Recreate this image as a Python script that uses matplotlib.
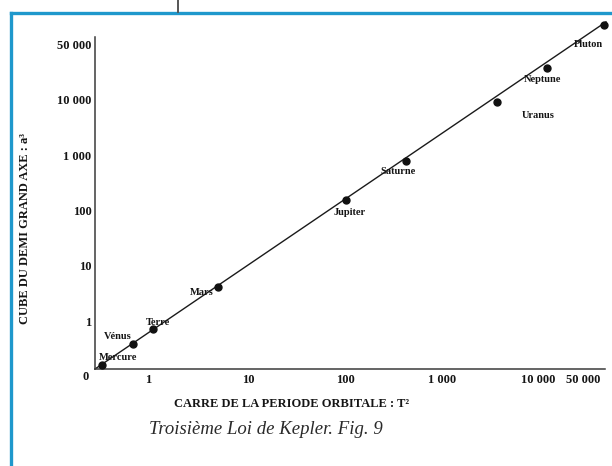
import numpy as np
import matplotlib
matplotlib.use("Agg")
import matplotlib.pyplot as plt
from matplotlib.lines import Line2D

# T^2 (years^2) and a^3 (AU^3) for each planet, as plotted
planets = ["Mercure", "Vénus", "Terre", "Mars", "Jupiter", "Saturne", "Uranus", "Neptune", "Pluton"]
t2 = [0.13, 0.72, 1.12, 5.0, 102, 427, 3740, 13800, 106000]
a3 = [0.085, 0.53, 0.85, 4.3, 158, 810, 9200, 25500, 90000]

# straight fit through the origin
fit_t2 = [0, 114000]
fit_a3 = [0, 98000]

tick_vals = [1, 10, 100, 1000, 10000, 50000]
tick_labels = ["1", "10", "100", "1 000", "10 000", "50 000"]

# label offsets (pixels) from each point
label_dx = [16, -15, 5, -16, 4, -8, 41, -5, -16]
label_dy = [8, 8, 7, -6, -12, -11, -14, -12, -20]

# the graduation is not a true log scale: 0..1 is linear, then each
# decade gets its own length (in pixels) as on the drawn axes
ANCHOR_VALS = [0, 1, 10, 100, 1000, 10000, 50000]
X_POS = [0, 53, 153, 250, 347, 443, 488]
Y_POS = [0, 47, 103, 158, 213, 269, 324]


def h(v):
    v = np.asarray(v, float)
    return np.where(v > 1, 1 + np.log10(np.maximum(v, 1)), v)


def h_inv(u):
    u = np.asarray(u, float)
    return np.where(u > 1, 10 ** (np.clip(u, 1, 12) - 1), u)


def extrap(x, xp, fp):
    x = np.asarray(x, float)
    y = np.interp(x, xp, fp)
    lo = (fp[1] - fp[0]) / (xp[1] - xp[0])
    hi = (fp[-1] - fp[-2]) / (xp[-1] - xp[-2])
    y = np.where(x < xp[0], fp[0] + (x - xp[0]) * lo, y)
    y = np.where(x > xp[-1], fp[-1] + (x - xp[-1]) * hi, y)
    return y


def make_scale(pos):
    hk = h(ANCHOR_VALS)
    fwd = lambda v: extrap(h(v), hk, pos)
    inv = lambda p: h_inv(extrap(p, pos, hk))
    return fwd, inv


W, H = 612, 466
fig = plt.figure(figsize=(W / 100, H / 100), dpi=100)
fig.patch.set_facecolor("white")

# axes box in pixels: x 95..605, y 37..369
ax = fig.add_axes([95 / W, (H - 369) / H, 510 / W, 332 / H])
ax.set_xscale("function", functions=make_scale(X_POS))
ax.set_yscale("function", functions=make_scale(Y_POS))
ax.set_xlim(0, 110000)
ax.set_ylim(0, 63000)

serif = "Liberation Serif"
ink = "#151515"

ax.plot(fit_t2, fit_a3, color="#1a1a1a", lw=1.0, clip_on=False, zorder=2)
ax.plot(t2, a3, "o", color="#111111", ms=5, clip_on=False, zorder=3)

for name, x, y, dx, dy in zip(planets, t2, a3, label_dx, label_dy):
    ax.annotate(name, xy=(x, y), xytext=(dx, dy), textcoords="offset pixels",
                ha="center", va="center", fontsize=7.5, fontweight="bold",
                family=serif, color=ink, zorder=4, annotation_clip=False)

ax.set_xticks(tick_vals)
ax.set_xticklabels(tick_labels)
ax.set_yticks(tick_vals)
ax.set_yticklabels(tick_labels)
ax.tick_params(length=0, labelsize=9, colors=ink)
ax.tick_params(axis="x", pad=3.5)
ax.tick_params(axis="y", pad=2.5)
for lab in ax.get_xticklabels() + ax.get_yticklabels():
    lab.set_family(serif)
    lab.set_fontweight("bold")

ax.annotate("0", xy=(0, 0), xytext=(-9, -8), textcoords="offset pixels",
            ha="center", va="center", fontsize=9, fontweight="bold",
            family=serif, color=ink, annotation_clip=False)

for side in ["top", "right"]:
    ax.spines[side].set_visible(False)
for side in ["left", "bottom"]:
    ax.spines[side].set_color("#3a3a3a")
    ax.spines[side].set_linewidth(1.1)
ax.set_facecolor("none")

fig.text(25 / W, 1 - 229 / H, "CUBE DU DEMI GRAND AXE : a³", rotation=90,
         ha="center", va="center", fontsize=9, fontweight="bold",
         family=serif, color=ink)
fig.text(292 / W, 1 - 404 / H, "CARRE DE LA PERIODE ORBITALE : T²",
         ha="center", va="center", fontsize=9, fontweight="bold",
         family=serif, color=ink)
fig.text(266 / W, 1 - 430 / H, "Troisième Loi de Kepler. Fig. 9",
         ha="center", va="center", fontsize=13.5, style="italic",
         family=serif, color="#2a2a2a")

# blue frame round the figure and the stub above it
blue = "#1f98cc"
fig.add_artist(Line2D([10.5 / W, 10.5 / W], [0, 1 - 13 / H], color=blue, lw=2.4,
                      transform=fig.transFigure, solid_capstyle="projecting"))
fig.add_artist(Line2D([10.5 / W, 1], [1 - 13 / H, 1 - 13 / H], color=blue, lw=2.4,
                      transform=fig.transFigure, solid_capstyle="projecting"))
fig.add_artist(Line2D([178 / W, 178 / W], [1, 1 - 12 / H], color="#555555", lw=1.4,
                      transform=fig.transFigure))

fig.savefig("out.png", dpi=100, facecolor="white")
